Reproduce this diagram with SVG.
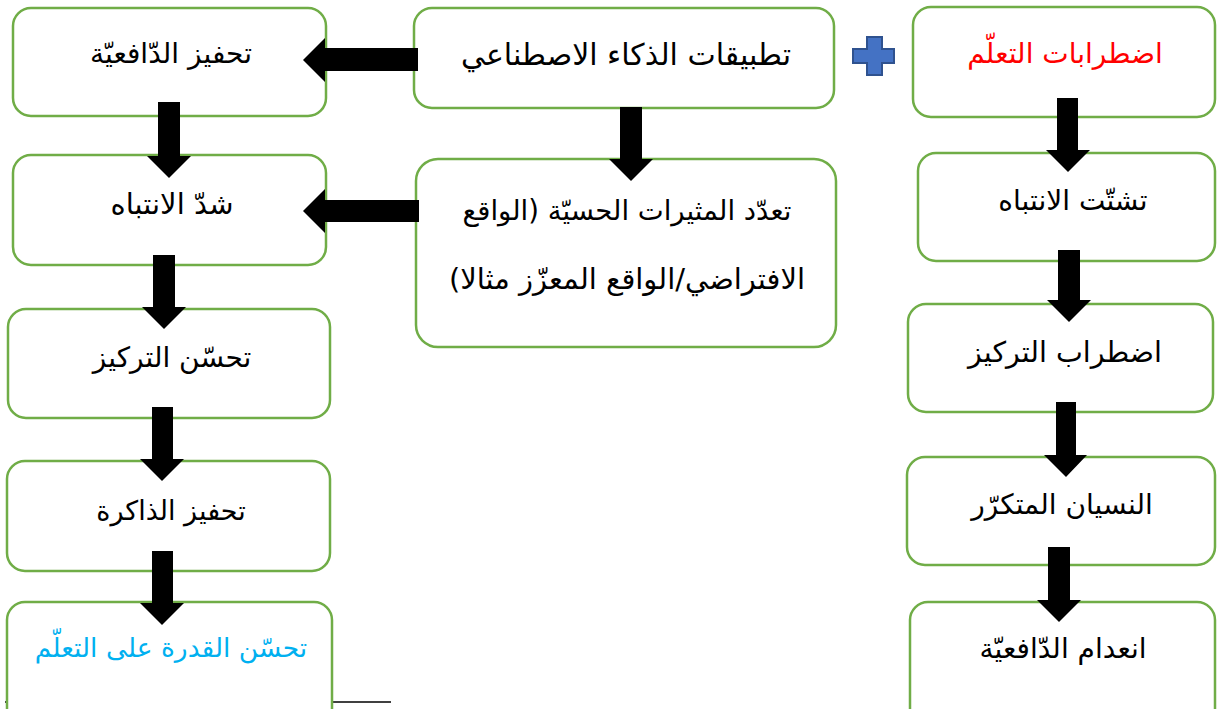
<svg xmlns="http://www.w3.org/2000/svg" width="1217" height="709" viewBox="0 0 1217 709">
<style>
.box{fill:#fff;stroke:#70AD47;stroke-width:2.5}
.t{font-family:"DejaVu Sans","Noto Sans",sans-serif;font-size:28px;fill:#000;text-anchor:middle}
.arr{fill:#000}
</style>
<rect x="0" y="0" width="1217" height="709" fill="#fff"/>
<line x1="5" y1="702" x2="391" y2="702" stroke="#000" stroke-width="1.5"/>
<g id="b1"><rect class="box" x="13" y="8" width="313" height="108" rx="18"/><text class="t" x="171" y="63" direction="rtl">تحفيز الدّافعيّة</text></g>
<g id="b2"><rect class="box" x="13" y="155" width="313" height="110" rx="18"/><text class="t" x="172" y="214" direction="rtl" style="font-size:29px">شدّ الانتباه</text></g>
<g id="b3"><rect class="box" x="8" y="309" width="322" height="109" rx="18"/><text class="t" x="172" y="367" direction="rtl">تحسّن التركيز</text></g>
<g id="b4"><rect class="box" x="7" y="461" width="323" height="110" rx="18"/><text class="t" x="171" y="520" direction="rtl" style="font-size:27px">تحفيز الذاكرة</text></g>
<g id="b5"><rect class="box" x="7" y="602" width="325" height="130" rx="18"/><text class="t" x="171" y="657" direction="rtl" style="fill:#00B0F0;font-size:26.5px">تحسّن القدرة على التعلّم</text></g>
<g id="m1"><rect class="box" x="414" y="8" width="420" height="100" rx="18"/><text class="t" x="626" y="65" direction="rtl" style="font-size:30px">تطبيقات الذكاء الاصطناعي</text></g>
<g id="m2"><rect class="box" x="416" y="159" width="420" height="188" rx="22"/><text class="t" x="627" y="220" direction="rtl" style="font-size:27.5px">تعدّد المثيرات الحسيّة (الواقع</text><text class="t" x="627" y="289" direction="rtl" style="font-size:29px">الافتراضي/الواقع المعزّز مثالا)</text></g>
<g id="r1"><rect class="box" x="913" y="7" width="302" height="110" rx="18"/><text class="t" x="1065" y="63" direction="rtl" style="fill:#FF0000">اضطرابات التعلّم</text></g>
<g id="r2"><rect class="box" x="918" y="153" width="297" height="108" rx="18"/><text class="t" x="1073" y="210" direction="rtl">تشتّت الانتباه</text></g>
<g id="r3"><rect class="box" x="908" y="304" width="305" height="108" rx="18"/><text class="t" x="1065" y="362" direction="rtl" style="font-size:28.5px">اضطراب التركيز</text></g>
<g id="r4"><rect class="box" x="907" y="457" width="308" height="108" rx="18"/><text class="t" x="1062" y="514" direction="rtl">النسيان المتكرّر</text></g>
<g id="r5"><rect class="box" x="910" y="602" width="305" height="130" rx="18"/><text class="t" x="1063" y="658" direction="rtl">انعدام الدّافعيّة</text></g>
<g id="plus"><polygon points="867,37 882,37 882,49 894,49 894,63 882,63 882,75 867,75 867,63 853,63 853,49 867,49" fill="#4472C4" stroke="#2F528F" stroke-width="2"/></g>
<g id="connectors">
<polygon class="arr" points="418,48 325,48 325,38 303,60 325,82 325,71 418,71"/>
<polygon class="arr" points="419,200 325,200 325,189 303,211 325,233 325,222 419,222"/>
<polygon class="arr" points="620,107 642,107 642,159 653,159 631,181 609,159 620,159"/>
<polygon class="arr" points="158,102 180,102 180,156 191,156 169,178 147,156 158,156"/>
<polygon class="arr" points="153,255 175,255 175,307 186,307 164,329 142,307 153,307"/>
<polygon class="arr" points="152,407 173,407 173,459 184,459 162,481 140,459 152,459"/>
<polygon class="arr" points="152,551 173,551 173,603 184,603 162,625 140,603 152,603"/>
<polygon class="arr" points="1057,98 1078,98 1078,150 1090,150 1068,172 1046,150 1057,150"/>
<polygon class="arr" points="1058,250 1080,250 1080,300 1091,300 1069,322 1047,300 1058,300"/>
<polygon class="arr" points="1056,402 1076,402 1076,455 1087,455 1066,477 1044,455 1056,455"/>
<polygon class="arr" points="1048,547 1070,547 1070,600 1081,600 1059,622 1037,600 1048,600"/>
</g>
</svg>
